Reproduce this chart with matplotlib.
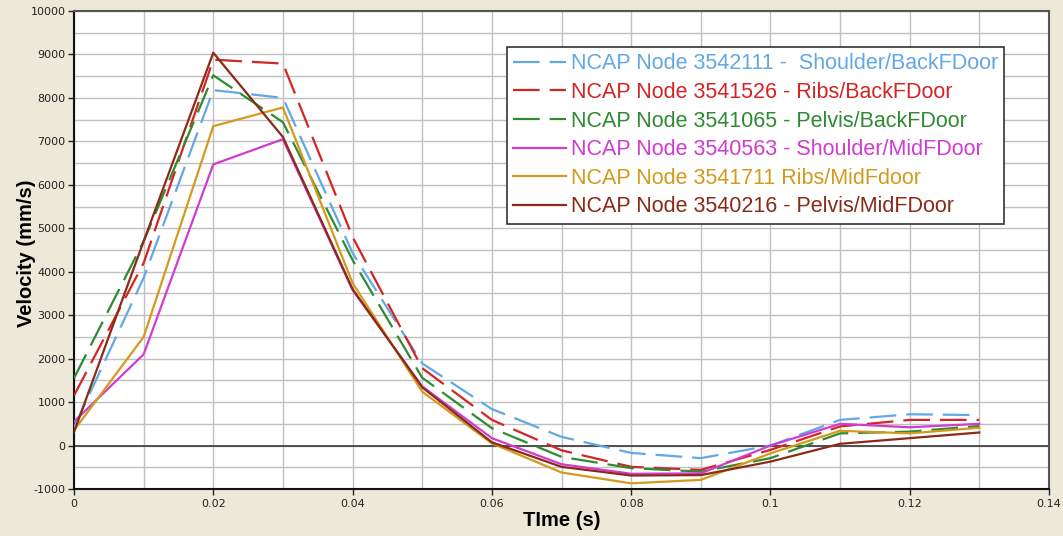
import matplotlib
matplotlib.use("Agg")
import matplotlib.pyplot as plt
from matplotlib.ticker import MultipleLocator, FuncFormatter

plt.rcParams["axes.unicode_minus"] = False

# Time samples (s)
time_s = [0.00, 0.01, 0.02, 0.03, 0.04, 0.05, 0.06, 0.07, 0.08, 0.09, 0.10, 0.11, 0.12, 0.13]

# Nodal velocities (mm/s)
shoulder_back = [420, 3860, 8180, 8000, 4430, 1890, 840, 200, -170, -290, 0, 590, 720, 700]
ribs_back = [1150, 4200, 8880, 8790, 4800, 1780, 590, -110, -490, -560, -100, 440, 590, 590]
pelvis_back = [1550, 4700, 8520, 7440, 4270, 1560, 400, -260, -520, -600, -290, 280, 320, 450]
shoulder_mid = [550, 2100, 6470, 7050, 3580, 1360, 170, -430, -650, -640, 0, 500, 420, 500]
ribs_mid = [350, 2500, 7350, 7780, 3740, 1240, 50, -620, -870, -790, -180, 340, 280, 410]
pelvis_mid = [310, 4700, 9040, 7100, 3600, 1340, 75, -490, -690, -680, -370, 40, 170, 300]

labels = [
    "NCAP Node 3542111 -  Shoulder/BackFDoor",
    "NCAP Node 3541526 - Ribs/BackFDoor",
    "NCAP Node 3541065 - Pelvis/BackFDoor",
    "NCAP Node 3540563 - Shoulder/MidFDoor",
    "NCAP Node 3541711 Ribs/MidFdoor",
    "NCAP Node 3540216 - Pelvis/MidFDoor",
]
series = [shoulder_back, ribs_back, pelvis_back, shoulder_mid, ribs_mid, pelvis_mid]
colors = ["#62A8E6", "#D42424", "#2F8A30", "#D03CD0", "#D39A1C", "#8A2A18"]
dashed = [True, True, True, False, False, False]

bg = "#ECE9D8"
fig = plt.figure(figsize=(10.63, 5.36), dpi=100, facecolor=bg)
ax = fig.add_axes([74 / 1063, 1 - 489 / 536, 975 / 1063, 478 / 536])
ax.set_facecolor("white")

ax.set_xlim(0, 0.14)
ax.set_ylim(-1000, 10000)

ax.xaxis.set_major_locator(MultipleLocator(0.02))
ax.xaxis.set_minor_locator(MultipleLocator(0.01))
ax.yaxis.set_major_locator(MultipleLocator(1000))
ax.yaxis.set_minor_locator(MultipleLocator(500))
ax.grid(True, which="both", color="#C0C0C0", linewidth=1.0)
ax.set_axisbelow(True)
ax.axhline(0, color="#444444", linewidth=1.3, zorder=1.5)

ax.xaxis.set_major_formatter(FuncFormatter(lambda v, p: "0" if abs(v) < 1e-12 else f"{v:.2f}".rstrip("0")))
ax.yaxis.set_major_formatter(FuncFormatter(lambda v, p: f"{int(round(v))}"))
ax.tick_params(which="major", direction="out", length=4, width=1, colors="#222222",
               labelsize=8, labelcolor="#222222")
ax.tick_params(which="minor", length=0)
ax.tick_params(axis="x", pad=3)
ax.tick_params(axis="y", pad=2)

for side in ["left", "bottom"]:
    ax.spines[side].set_color("#111111")
    ax.spines[side].set_linewidth(1.5)
for side in ["top", "right"]:
    ax.spines[side].set_color("#555555")
    ax.spines[side].set_linewidth(1.5)

for vals, lab, col, dsh in zip(series, labels, colors, dashed):
    ls = (0, (12, 4.5)) if dsh else "-"
    ax.plot(time_s, vals, color=col, linewidth=1.6, linestyle=ls, label=lab, zorder=3)

ax.set_xlabel("TIme (s)", fontsize=14.5, fontweight="bold", family="Liberation Sans")
ax.xaxis.set_label_coords(0.5, (489 - 520) / 478)
ax.set_ylabel("Velocity (mm/s)", fontsize=14.5, fontweight="bold", family="Liberation Sans")
ax.yaxis.set_label_coords((27 - 74) / 975, (489 - 253) / 478)
ax.xaxis.label.set_verticalalignment("center")
ax.yaxis.label.set_verticalalignment("center")

leg = ax.legend(loc="upper left", bbox_to_anchor=(433 / 975, (489 - 47) / 478),
                borderaxespad=0, frameon=True, fancybox=False, framealpha=1,
                edgecolor="#333333", facecolor="white",
                prop={"family": "Liberation Sans", "size": 15.5},
                handlelength=2.45, handletextpad=0.2, labelspacing=0.35,
                borderpad=0.3)
leg.get_frame().set_linewidth(1.2)
for txt, col in zip(leg.get_texts(), colors):
    txt.set_color(col)

fig.savefig("out.png", dpi=100, facecolor=bg)
